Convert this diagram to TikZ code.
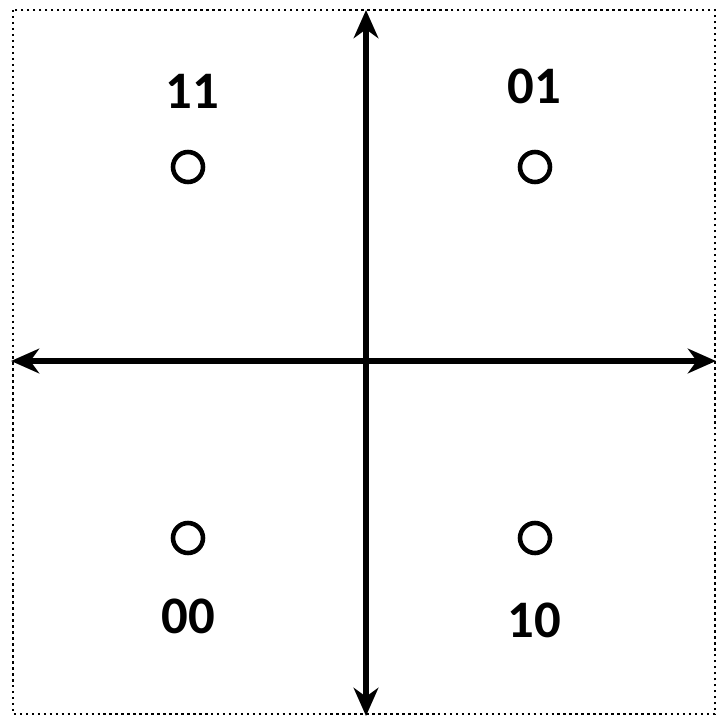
\documentclass[tikz,border=0pt]{standalone}
\usepackage{fontspec}
\setmainfont{Carlito}
\usetikzlibrary{arrows.meta}

\begin{document}
\begin{tikzpicture}[x=0.02cm,y=-0.02cm,
  axis/.style={line width=3.4pt,-{Stealth[length=16pt,width=14pt,inset=5pt]}},
  symb/.style={circle,draw,line width=2.6pt,minimum size=0.6cm,inner sep=0pt},
  bits/.style={font=\fontsize{30}{32}\selectfont\bfseries,inner sep=0pt}]
  \useasboundingbox (0,0) rectangle (717,717);
  \draw[dotted,line width=1.4pt] (13,10) rectangle (715,714);
  % axes
  \coordinate (c) at (366,361);
  \coordinate (up) at (366,10);
  \coordinate (dn) at (366,716);
  \coordinate (lt) at (11,361);
  \coordinate (rt) at (716,361);
  \draw[axis] (c) -- (up);
  \draw[axis] (c) -- (dn);
  \draw[axis] (c) -- (lt);
  \draw[axis] (c) -- (rt);
  % constellation points
  \node[symb] (s11) at (188,167) {};
  \node[symb] (s01) at (535,167) {};
  \node[symb] (s00) at (188,538) {};
  \node[symb] (s10) at (535,538) {};
  \node[bits] (l11) at (192,91) {11};
  \node[bits] (l01) at (534,86) {01};
  \node[bits] (l00) at (188,616) {00};
  \node[bits] (l10) at (534,620) {10};
\end{tikzpicture}
\end{document}
